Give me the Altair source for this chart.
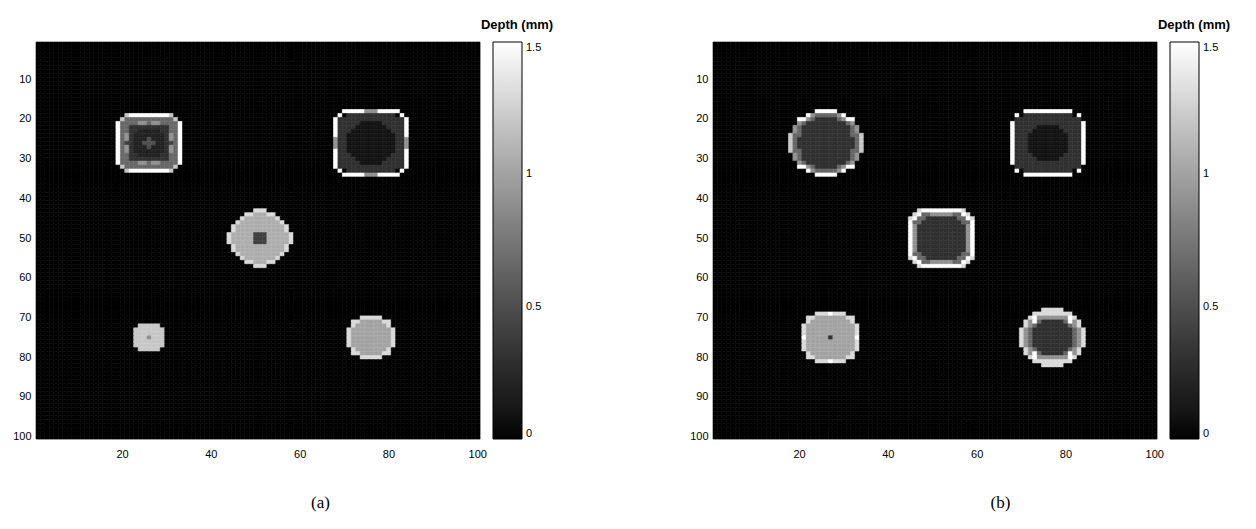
import altair as alt
import pandas as pd

# ---- grey levels (depth in mm) used by the blob maps ----
LEVEL_CODES = ['.', 'W', 'L', 'H', 'G', 'A', 'g', 'm', 'n', 'c', 'd', 'k', 'K']
LEVEL_DEPTHS = [0.0, 1.5, 1.3, 1.2, 1.06, 1.0, 0.9, 0.65, 0.5, 0.4, 0.3, 0.2, 0.1]

# ---- panel (a) blobs ----
A1 = ["..HWWWWWWWWWH..",
      ".HmmmmmmmmmmmH.",
      "WmmmmggmggmmmmW",
      "WmmdddddddddmmW",
      "WmmddkkkkkddmmW",
      "WmgdkkkkkkkdgmW",
      "WmgdkkknkkkdgmW",
      "WmcdkknnnkkdcmW",
      "WmgdkkknkkkdgmW",
      "WmgdkkkkkkkdgmW",
      "WmmddkkkkkddmmW",
      "WmmdddddddddmmW",
      "WmmmmggmggmmmmW",
      ".HmmmmmmmmmmmH.",
      "..HWWWWWWWWWH.."]
A2 = ["..WWWWWgggWWWWW..",
      ".W.ddddddddddd.W.",
      "WdddddddddddddddW",
      "WdddddKKKKKdddddW",
      "WddddKKKKKKKddddW",
      "WdddKKKKKKKKKdddW",
      "WddKKKKKKKKKKKddW",
      "gddKKKKKKKKKKKddg",
      "gddKKKKKKKKKKKddg",
      "gddKKKKKKKKKKKddg",
      "WddKKKKKKKKKKKddW",
      "WdddKKKKKKKKKdddW",
      "WddddKKKKKKKddddW",
      "WdddddKKKKKdddddW",
      "WdddddddddddddddW",
      ".W.ddddddddddd.W.",
      "..WWWWWgggWWWWW.."]
A3 = ["......LLL......",
      "....LLGGGLL....",
      "...LGGGGGGGL...",
      "..LGGGGGGGGGL..",
      ".LGGGGGGGGGGGL.",
      ".LGGGGGGGGGGGL.",
      "LGGGGGcccGGGGGL",
      "LGGGGGcccGGGGGL",
      "LGGGGGcccGGGGGL",
      ".LGGGGGGGGGGGL.",
      ".LGGGGGGGGGGGL.",
      "..LGGGGGGGGGL..",
      "...LGGGGGGGL...",
      "....LLGGGLL....",
      "......LLL......"]
A4 = [".HHHHH.",
      "HHHHHHH",
      "HHHHHHH",
      "HHHgHHH",
      "HHHHHHH",
      "HHHHHHH",
      ".HHHHH."]
A5 = ["...LLLLL...",
      ".LLAAAAALL.",
      ".LAAAAAAAL.",
      "LAAAAAAAAAL",
      "LAAAAAAAAAL",
      "LAAAAAAAAAL",
      "LAAAAAAAAAL",
      "LAAAAAAAAAL",
      ".LAAAAAAAL.",
      ".LLAAAAALL.",
      "...LLLLL..."]

# ---- panel (b) blobs ----
B1 = ["......WWWWW......",
      "....WgmmmmmgW....",
      "..WWgmdddddmgWW..",
      "..gmdddddddddmg..",
      ".gmdddddddddddmg.",
      ".gmdddddddddddmg.",
      "HmmdddddddddddmmH",
      "HmdddddddddddddmH",
      "HmdddddddddddddmH",
      "HmdddddddddddddmH",
      "HmmdddddddddddmmH",
      ".gmdddddddddddmg.",
      ".gmdddddddddddmg.",
      "..gmdddddddddmg..",
      "..WWgmdddddmgWW..",
      "....WgmmmmmgW....",
      "......WWWWW......"]
B2 = ["...WWWWWWWWWWW...",
      ".W.ddddddddddd.W.",
      ".ddddddddddddddd.",
      "WdddddddddddddddW",
      "WdddddKKKKKdddddW",
      "WddddKKKKKKKddddW",
      "WdddKKKKKKKKKdddW",
      "WdddKKKKKKKKKdddW",
      "WdddKKKKKKKKKdddW",
      "WdddKKKKKKKKKdddW",
      "WdddKKKKKKKKKdddW",
      "WddddKKKKKKKddddW",
      "WdddddKKKKKdddddW",
      "WdddddddddddddddW",
      ".ddddddddddddddd.",
      ".W.ddddddddddd.W.",
      "...WWWWWWWWWWW..."]
B3 = ["..LWWWWWWWWWL..",
      ".LWmmgggggmmWL.",
      "LWmmdddddddmmWL",
      "WmmdddddddddmmW",
      "WgdddddddddddgW",
      "WgdddddddddddgW",
      "WgdddddddddddgW",
      "WgdddddddddddgW",
      "WgdddddddddddgW",
      "WgdddddddddddgW",
      "WgdddddddddddgW",
      "WmmdddddddddmmW",
      "LWmmdddddddmmWL",
      ".LWmmgggggmmWL.",
      "..LWWWWWWWWWL.."]
B4 = ["...LLLWLLL...",
      ".LLAAAAAAALL.",
      ".LAAAAAAAAAL.",
      "LAAAAAAAAAAAL",
      "LAAAAAAAAAAAL",
      "LAAAAAAAAAAAL",
      "WAAAAAdAAAAAW",
      "LAAAAAAAAAAAL",
      "LAAAAAAAAAAAL",
      "LAAAAAAAAAAAL",
      ".LAAAAAAAAAL.",
      ".LLAAAAAAALL.",
      "...LLLWLLL..."]
B5 = [".....LLLLL.....",
      "...LLLLLLLLL...",
      "..LWgggggggWL..",
      ".LgWmdddddmWgL.",
      ".LgmdddddddmgL.",
      "LgmdddddddddmgL",
      "LgmdddddddddmgL",
      "LgmdddddddddmgL",
      "LgmdddddddddmgL",
      "LgmdddddddddmgL",
      ".LgmdddddddmgL.",
      ".LgWmdddddmWgL.",
      "..LWgggggggWL..",
      "...LLLLLLLLL...",
      ".....LLLLL....."]

# blob centres (row, column) in image cells
A_BLOBS = [A1, A2, A3, A4, A5]
A_ROWS = [26, 26, 50, 75, 75]
A_COLS = [26, 76, 51, 26, 76]
B_BLOBS = [B1, B2, B3, B4, B5]
B_ROWS = [26, 26, 50, 75, 75]
B_COLS = [26, 76, 52, 27, 77]

N = 100
X_TICKS = [20, 40, 60, 80, 100]
Y_TICKS = [10, 20, 30, 40, 50, 60, 70, 80, 90, 100]
CBAR_TICKS = [0, 0.5, 1, 1.5]
VMAX = 1.5

lvl = dict(zip(LEVEL_CODES, LEVEL_DEPTHS))


def build(blobs, rows, cols):
    grid = [[0.0] * N for _ in range(N)]
    for blob, cr, cc in zip(blobs, rows, cols):
        h, w = len(blob), len(blob[0])
        assert all(len(r) == w for r in blob), blob
        r0, c0 = cr - h // 2, cc - w // 2
        for i, line in enumerate(blob):
            for j, ch in enumerate(line):
                v = lvl[ch]
                if v > 0:
                    grid[r0 + i - 1][c0 + j - 1] = v
    recs = []
    for r in range(N):
        for c in range(N):
            recs.append({"col": c + 1, "row": r + 1, "v": grid[r][c]})
    return pd.DataFrame(recs)


df_a = build(A_BLOBS, A_ROWS, A_COLS)
df_b = build(B_BLOBS, B_ROWS, B_COLS)

FONT = "Liberation Sans"
cscale = alt.Scale(domain=[0, VMAX], range=["#000000", "#ffffff"])


def panel(df, caption, capx, legx):
    return alt.Chart(df).transform_calculate(
        gl=f"round(datum.v / {VMAX} * 255)"
    ).transform_calculate(
        edge="'rgb(' + datum.gl + ',' + datum.gl + ',' + datum.gl + ')'"
    ).mark_rect(strokeWidth=0.6).encode(
        x=alt.X("col:O", scale=alt.Scale(paddingInner=0, paddingOuter=0),
                axis=alt.Axis(values=X_TICKS, labelAngle=0, ticks=False, domain=False,
                              labelPadding=9, labelFontSize=11, labelFont=FONT,
                              labelColor="black", title=caption,
                              titleFont="Liberation Serif", titleFontSize=17,
                              titleFontWeight="normal", titleColor="black",
                              titleX=capx, titleY=63, titleBaseline="middle")),
        y=alt.Y("row:O", scale=alt.Scale(paddingInner=0, paddingOuter=0),
                axis=alt.Axis(values=Y_TICKS, ticks=False, domain=False, labelPadding=5,
                              labelFontSize=11, labelFont=FONT, labelColor="black",
                              title=None)),
        color=alt.Color("v:Q", scale=cscale,
                        legend=alt.Legend(type="gradient", title="Depth (mm)",
                                          orient="none", legendX=legx, legendY=-23,
                                          direction="vertical", gradientLength=397,
                                          gradientThickness=29, values=CBAR_TICKS,
                                          labelExpr="datum.value + ''",
                                          titleFont=FONT, titleFontSize=13,
                                          titleFontWeight="bold", titleAnchor="middle",
                                          titleColor="black", titlePadding=10,
                                          labelFont=FONT, labelFontSize=11,
                                          labelColor="black", labelOffset=4,
                                          gradientStrokeColor="black",
                                          gradientStrokeWidth=1, padding=0)),
        stroke=alt.Stroke("edge:N", scale=None),
    ).properties(width=444, height=397)


pa = panel(df_a, "(a)", 284, 445)
pb = panel(df_b, "(b)", 287, 445)

chart = alt.hconcat(pa, pb, spacing=233, bounds="flush").resolve_scale(
    color="independent", x="independent", y="independent"
).resolve_legend(color="independent").properties(
    padding={"left": 4, "top": 10, "right": 5, "bottom": 5}
).configure_view(stroke=None, fill="black").configure(background="white")

chart.save("out.html", embed_options={"renderer": "svg", "actions": False})
